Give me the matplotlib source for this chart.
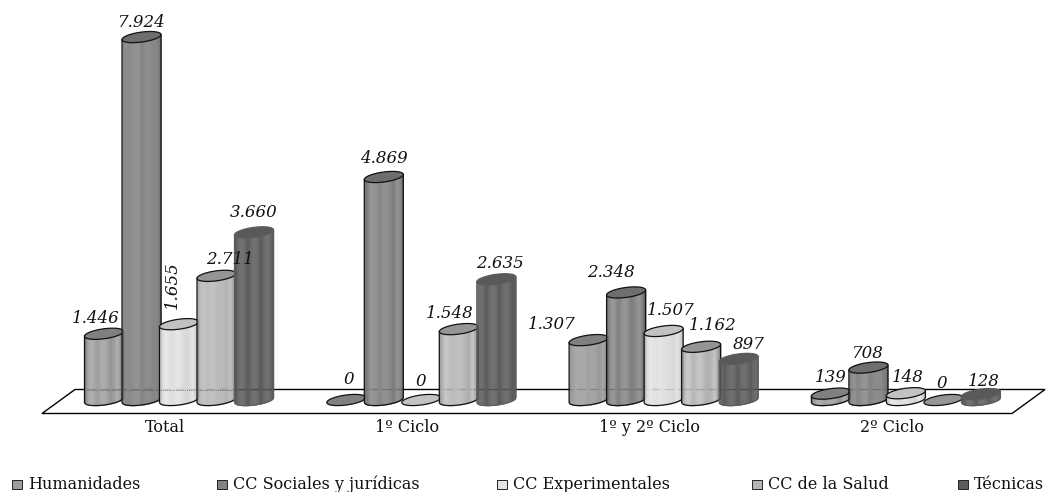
import numpy as np
import matplotlib
matplotlib.use("Agg")
import matplotlib.pyplot as plt
from matplotlib.patches import Polygon, Rectangle

groups = ["Total", "1º Ciclo", "1º y 2º Ciclo", "2º Ciclo"]
humanidades = [1446, 0, 1307, 139]
sociales = [7924, 4869, 2348, 708]
experimentales = [1655, 0, 1507, 148]
salud = [2711, 1548, 1162, 0]
tecnicas = [3660, 2635, 897, 128]
series_names = ["Humanidades", "CC Sociales y jurídicas", "CC Experimentales", "CC de la Salud", "Técnicas"]
all_series = [humanidades, sociales, experimentales, salud, tecnicas]

colors = ["#9c9c9c", "#828282", "#e4e4e4", "#b6b6b6", "#5c5c5c"]
edge = ["#111111", "#111111", "#111111", "#111111", "#5c5c5c"]
top_shade = [0.82, 0.85, 0.85, 0.82, 0.97]
body_contrast = [1.0, 1.0, 0.6, 1.0, 0.3]
body_gain = [1.0, 1.0, 0.97, 1.0, 1.0]
legend_x = [17, 222, 502, 757, 963]

# label offsets in pixels from each bar's top (series, group)
nudge = {
    (0, 0): (-8, 15), (1, 0): (0, 15), (2, 0): (-7, 39), (3, 0): (13, 16), (4, 0): (0, 20),
    (0, 1): (2, 20), (1, 1): (0, 18), (2, 1): (-1, 18), (3, 1): (-9, 16), (4, 1): (4, 16),
    (0, 2): (-37, 16), (1, 2): (-15, 20), (2, 2): (7, 20), (3, 2): (12, 21), (4, 2): (10, 14),
    (0, 3): (0, 16), (1, 3): (0, 14), (2, 3): (2, 16), (3, 3): (-2, 17), (4, 3): (3, 13),
}
rotated = {(2, 0)}

W, H = 1046, 492
PX_PER_UNIT = 0.0458
BASE_PX = 400
GROUP_PX = 242.3
FIRST_PX = 179
BAR_STEP = 37.5 / GROUP_PX
BAR_W = 39 / GROUP_PX

px2x = lambda p: (p - FIRST_PX) / GROUP_PX
py2y = lambda p: (BASE_PX - p) / PX_PER_UNIT

plt.rcParams["font.family"] = ["DejaVu Serif"]
fig = plt.figure(figsize=(W / 100, H / 100), dpi=100)
ax = fig.add_axes([0, 0, 1, 1])
ax.set_xlim(px2x(0), px2x(W))
ax.set_ylim(py2y(H), py2y(0))
ax.axis("off")

# floor
ax.add_patch(Polygon([(px2x(42), py2y(413.5)), (px2x(75), py2y(389.5)),
                      (px2x(1045), py2y(389.5)), (px2x(1012), py2y(413.5))],
                     closed=True, fc="white", ec="black", lw=1.0, zorder=1))

b_unit = 5.0 / PX_PER_UNIT    # half-height of ellipse
k_unit = 2.5 / PX_PER_UNIT    # tilt of ellipse
t = np.linspace(0, 2 * np.pi, 80)


def rim(u):
    """y of the front (lower) rim for normalised position u in [-1, 1]"""
    return -b_unit * np.sqrt(np.clip(1 - u ** 2, 0, 1)) + k_unit * u


def shade(col, f):
    c = np.array(matplotlib.colors.to_rgb(col))
    return np.clip(c * f, 0, 1)


prof_u = np.array([-1, -.9, -.7, -.45, -.1, .2, .5, .7, .85, 1])
prof_f = np.array([.78, .95, 1.08, 1.0, 1.05, .98, .95, 1.05, .88, .72])

for j, vals in enumerate(all_series):
    for g, v in enumerate(vals):
        cx = g + (j - 2) * BAR_STEP
        a = BAR_W / 2
        z = 3 + j * 0.1
        col = colors[j]
        if v > 0:
            us = np.linspace(-1, 1, 37)
            for u0, u1 in zip(us[:-1], us[1:]):
                uu = np.array([u0, u1])
                f = np.interp((u0 + u1) / 2, prof_u, prof_f)
                f = (1 + (f - 1) * body_contrast[j]) * body_gain[j]
                ax.fill_between(cx + a * uu, rim(uu), v + k_unit * uu,
                                color=shade(col, f), lw=0.2, zorder=z)
            u = np.linspace(-1, 1, 60)
            xs = np.r_[cx - a, cx + a * u, cx + a]
            ys = np.r_[v - k_unit, rim(u), v + k_unit]
            ax.plot(xs, ys, color=edge[j], lw=0.9, zorder=z + 0.02, solid_joinstyle="round")
        ex = cx + a * np.cos(t)
        ey = v + b_unit * np.sin(t) + k_unit * np.cos(t)
        ax.add_patch(Polygon(np.c_[ex, ey], closed=True, fc=shade(col, top_shade[j]), ec=edge[j],
                             lw=0.9, zorder=z + 0.03))
        (dx, dy) = nudge[(j, g)]
        text = f"{v:,}".replace(",", ".")
        ax.annotate(text, (cx, v), xytext=(dx, dy), textcoords="offset pixels",
                    ha="center", va="center", fontsize=12, style="italic",
                    color="#111111", rotation=90 if (j, g) in rotated else 0, zorder=8)

# floor's back line faintly visible through the first group
ax.plot([px2x(85), px2x(275)], [py2y(389.5)] * 2, color="#555555", lw=0.6, ls=":", zorder=7)

# category labels
for g, name in enumerate(groups):
    ax.annotate(name, (g, 0), xytext=(-14, -28), textcoords="offset pixels",
                ha="center", va="center", fontsize=11.5, color="#111111")

# legend
for name, col, px in zip(series_names, colors, legend_x):
    fig.add_artist(Rectangle(((px - 5) / W, 1 - 489 / H), 9.5 / W, 9.5 / H, transform=fig.transFigure,
                             fc=col, ec="#222222", lw=0.7))
    fig.text((px + 11) / W, 1 - 484.5 / H, name, ha="left", va="center", fontsize=11.5, color="#111111")

fig.savefig("out.png", dpi=100)
